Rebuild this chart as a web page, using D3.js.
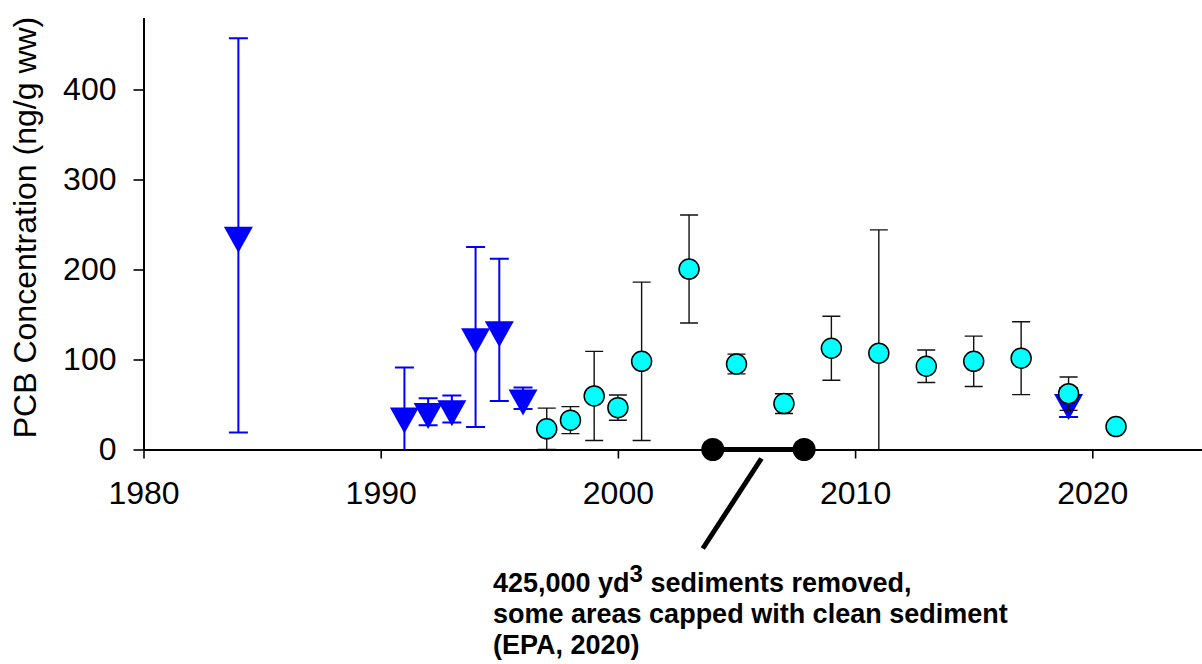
<!DOCTYPE html>
<html><head><meta charset="utf-8">
<script src="https://cdn.jsdelivr.net/npm/d3@7"></script>
<style>
html,body{margin:0;padding:0;background:#fff;}
svg{display:block;font-family:"Liberation Sans",Arial,Helvetica,sans-serif;}
</style></head><body>
<svg id="chart" width="1202" height="664"></svg>
<script>
// ---- data ----
const triYears  = [1984, 1991, 1992, 1993, 1994, 1995, 1996, 2019];
const triMeans  = [238, 37, 42, 45, 125, 133, 57, 52];
const triErrs   = [219, 54, 15, 15, 100, 79, 12, 16];

const circYears = [1997, 1998, 1999, 2000, 2001, 2003, 2005, 2007, 2009, 2011, 2013, 2015, 2017, 2019, 2021];
const circMeans = [23, 32.6, 59.5, 46.5, 98, 200.5, 95, 51, 112.5, 107, 92.5, 98, 101.5, 62, 25.5];
const circErrs  = [23, 15, 49.5, 14, 88, 60, 11, 11, 35.5, 137, 18, 28, 40.5, 18.5, 0];

const remedYears  = [2004, 2007.85];
const remedValues = [0, 0];
const leaderYears  = [2006.05, 2003.58];
const leaderValues = [-10, -110];

const xTicks = [1980, 1990, 2000, 2010, 2020];
const yTicks = [0, 100, 200, 300, 400];
const yTitle = "PCB Concentration (ng/g ww)";
const noteLine1a = "425,000 yd";
const noteLine1sup = "3";
const noteLine1b = " sediments removed,";
const noteLine2 = "some areas capped with clean sediment";
const noteLine3 = "(EPA, 2020)";

// ---- scales ----
const svg = d3.select("#chart");
const x = d3.scaleLinear().domain([1980, 2025]).range([143.5, 1210.9]);
const y = d3.scaleLinear().domain([0, 480]).range([449.5, 17.5]);

svg.append("defs").append("clipPath").attr("id", "plotclip")
  .append("rect").attr("x", x(1980)).attr("y", y(480))
  .attr("width", 1202 - x(1980)).attr("height", y(0) - y(480));

// ---- axes ----
const xAxis = d3.axisBottom(x).tickValues(xTicks).tickFormat(d3.format("d"))
  .tickSizeInner(9).tickSizeOuter(0).tickPadding(23);
const yAxis = d3.axisLeft(y).tickValues(yTicks).tickFormat(d3.format("d"))
  .tickSizeInner(10).tickSizeOuter(0).tickPadding(17);

const gx = svg.append("g").attr("transform", `translate(0,${y(0)})`).call(xAxis);
const gy = svg.append("g").attr("transform", `translate(${x(1980)},0)`).call(yAxis);
[gx, gy].forEach(g => {
  g.select(".domain").attr("stroke", "#000").attr("stroke-width", 2);
  g.selectAll(".tick line").attr("stroke", "#000").attr("stroke-width", 1.6);
  g.selectAll(".tick text").attr("fill", "#000")
    .style("font-size", "32px").style("font-family", "'Liberation Sans',Arial,sans-serif");
});

svg.append("text")
  .attr("transform", `translate(36,${(y(0) + y(480)) / 2 - 6}) rotate(-90)`)
  .attr("text-anchor", "middle")
  .style("font-size", "32px")
  .attr("fill", "#000")
  .text(yTitle);

// ---- error bar helper ----
function errorBars(years, means, errs, color, width, capW) {
  const g = svg.append("g").attr("clip-path", "url(#plotclip)")
    .attr("stroke", color).attr("stroke-width", width).attr("fill", "none");
  years.forEach((yr, i) => {
    if (!errs[i]) return;
    const cx = x(yr), hi = y(means[i] + errs[i]), lo = y(means[i] - errs[i]);
    g.append("line").attr("x1", cx).attr("x2", cx).attr("y1", hi).attr("y2", lo);
    g.append("line").attr("x1", cx - capW / 2).attr("x2", cx + capW / 2).attr("y1", hi).attr("y2", hi);
    g.append("line").attr("x1", cx - capW / 2).attr("x2", cx + capW / 2).attr("y1", lo).attr("y2", lo);
  });
}

// blue triangles series
errorBars(triYears, triMeans, triErrs, "#0000ff", 2, 19);
const triShape = "M-14.5,-8.67L14.5,-8.67L0,17.33Z";
svg.append("g").selectAll("path").data(triYears).join("path")
  .attr("d", triShape)
  .attr("transform", (d, i) => `translate(${x(d)},${y(triMeans[i])})`)
  .attr("fill", "#0000ff");

// cyan circle series
errorBars(circYears, circMeans, circErrs, "#111", 1.4, 18);
svg.append("g").selectAll("circle").data(circYears).join("circle")
  .attr("cx", d => x(d))
  .attr("cy", (d, i) => y(circMeans[i]))
  .attr("r", 10)
  .attr("fill", "#00ffff")
  .attr("stroke", "#000")
  .attr("stroke-width", 1.5);

// remediation period
svg.append("line")
  .attr("x1", x(remedYears[0])).attr("x2", x(remedYears[1]))
  .attr("y1", y(remedValues[0])).attr("y2", y(remedValues[1]))
  .attr("stroke", "#000").attr("stroke-width", 5);
svg.append("g").selectAll("circle").data(remedYears).join("circle")
  .attr("cx", d => x(d)).attr("cy", (d, i) => y(remedValues[i]))
  .attr("r", 11.5).attr("fill", "#000");
svg.append("line")
  .attr("x1", x(leaderYears[0])).attr("y1", y(leaderValues[0]))
  .attr("x2", x(leaderYears[1])).attr("y2", y(leaderValues[1]))
  .attr("stroke", "#000").attr("stroke-width", 5);

// annotation text
const note = svg.append("g").style("font-size", "27px").style("font-weight", "bold").attr("fill", "#000");
const t1 = note.append("text").attr("x", 493).attr("y", 592);
t1.append("tspan").text(noteLine1a);
t1.append("tspan").attr("dy", -10).style("font-size", "24px").text(noteLine1sup);
t1.append("tspan").attr("dy", 10).text(noteLine1b);
note.append("text").attr("x", 493).attr("y", 623).text(noteLine2);
note.append("text").attr("x", 493).attr("y", 654).text(noteLine3);
</script>
</body></html>
